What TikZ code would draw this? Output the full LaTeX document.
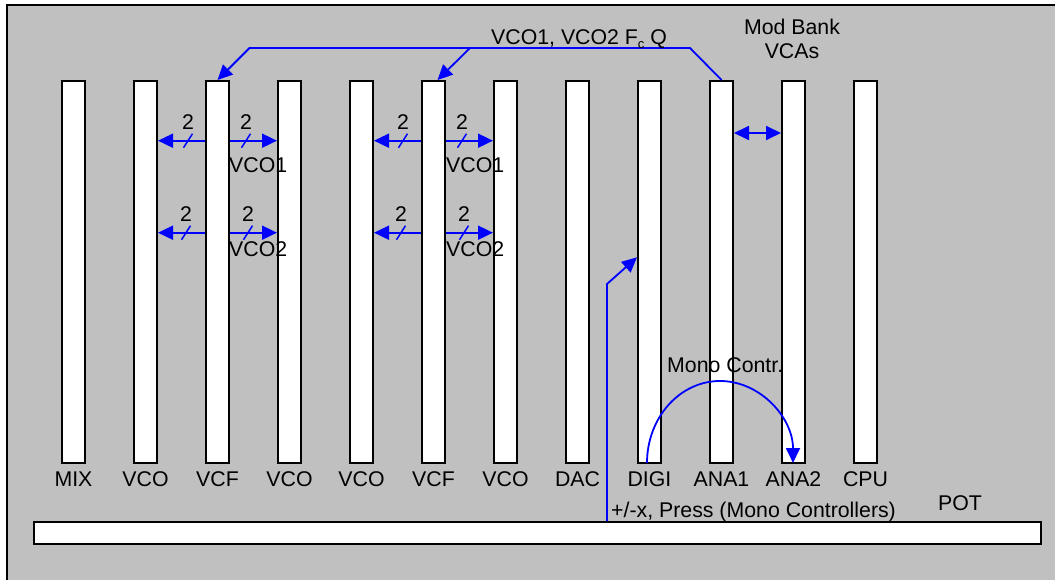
\documentclass[tikz,border=0pt]{standalone}
\usepackage{fontspec}
\setmainfont{Liberation Sans}
\usetikzlibrary{arrows.meta}
\definecolor{bggray}{RGB}{192,192,192}
\begin{document}
\begin{tikzpicture}[x=1pt,y=-1pt,
  board/.style={draw=black, fill=white, line width=2pt, minimum width=23pt, minimum height=382pt, inner sep=0pt},
  lbl/.style={inner sep=0pt, anchor=base, font=\fontsize{21.3}{24}\selectfont},
  lblw/.style={lbl, anchor=base west},
  wire/.style={draw=blue, line width=1.8pt},
  tipend/.style={-{Triangle[length=15pt,width=14pt]}},
  tipboth/.style={{Triangle[length=15pt,width=14pt]}-{Triangle[length=15pt,width=14pt]}}
]
\useasboundingbox (0,0) rectangle (1055,580);
\begin{scope}
  \clip (0,0) rectangle (1055,580);
  \draw[fill=bggray, line width=2pt] (7,5) rectangle (1080,600);
\end{scope}
% boards
\foreach \i/\t in {0/MIX,1/VCO,2/VCF,3/VCO,4/VCO,5/VCF,6/VCO,7/DAC,8/DIGI,9/ANA1,10/ANA2,11/CPU}{
  \node[board] (b\i) at (73.5+72*\i, 272) {};
  \node[lbl] (l\i) at (73.5+72*\i, 486.5) {\t};
}
% POT bar
\node[draw=black, fill=white, line width=2pt, minimum width=1007pt, minimum height=22pt, inner sep=0pt] (pot) at (537.5,533) {};
\node[lbl] (potl) at (960,510) {POT};
% bus arrows group 1
\draw[wire,tipend] (b2.west |- 0,140.7) -- (b1.east |- 0,140.7);
\draw[wire,tipend] (b2.east |- 0,140.7) -- (b3.west |- 0,140.7);
\draw[wire,tipend] (b2.west |- 0,232.7) -- (b1.east |- 0,232.7);
\draw[wire,tipend] (b2.east |- 0,232.7) -- (b3.west |- 0,232.7);
% bus arrows group 2
\draw[wire,tipend] (b5.west |- 0,140.7) -- (b4.east |- 0,140.7);
\draw[wire,tipend] (b5.east |- 0,140.7) -- (b6.west |- 0,140.7);
\draw[wire,tipend] (b5.west |- 0,232.7) -- (b4.east |- 0,232.7);
\draw[wire,tipend] (b5.east |- 0,232.7) -- (b6.west |- 0,232.7);
% bus width marks
\foreach \x/\y in {188/140.7,246/140.7,186/232.7,248/232.7,403/140.7,462/140.7,401/232.7,464/232.7}{
  \draw[wire, line width=1.5pt] (\x,\y) ++(-4.5,7) -- ++(9,-14);
  \node[lbl] at (\x,\y-11) {2};
}
\node[lblw] (v11) at (229,172.5) {VCO1};
\node[lblw] (v12) at (229,257) {VCO2};
\node[lblw] (v21) at (446,172.5) {VCO1};
\node[lblw] (v22) at (446,257) {VCO2};
% top Fc Q arrow
\coordinate (tr) at (690,48);
\coordinate (tl) at (249.5,48);
\coordinate (tm) at (470,48);
\draw[wire,tipend] (b9.north) -- (tr) -- (tl) -- (b2.north);
\draw[wire,tipend] (tm) -- ([xshift=4pt]b5.north);
\node[lblw] (fcq) at (491,45) {VCO1, VCO2 F\raisebox{-0.3ex}{\fontsize{13}{13}\selectfont c} Q};
% Mod bank
\draw[wire,tipboth] (b9.east |- 0,133) -- (b10.west |- 0,133);
\node[lbl] (mb1) at (792,35) {Mod Bank};
\node[lbl] (mb2) at (792,58.5) {VCAs};
% DIGI feed
\coordinate (dk) at (607,284);
\draw[wire,tipend] (pot.north -| dk) -- (dk) -- (b8.west |- 0,257.3);
\node[lblw] (press) at (611,517) {+/-x, Press (Mono Controllers)};
% Mono controllers arc
\coordinate (ms) at (647,463);
\draw[wire,tipend] (ms) arc[start angle=180, end angle=360, x radius=73, y radius=82];
\node[lblw] (mono) at (667,372.5) {Mono Contr.};
\end{tikzpicture}
\end{document}
